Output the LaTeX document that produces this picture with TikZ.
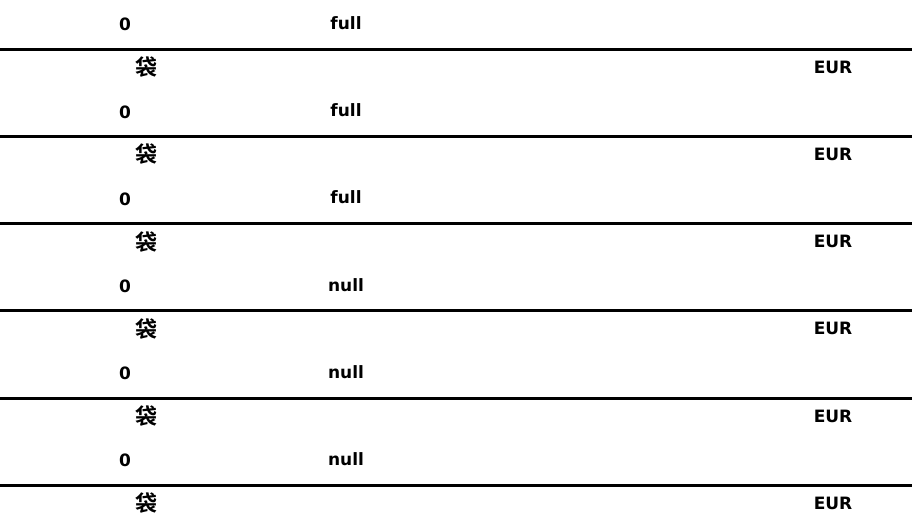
\documentclass[tikz,border=0pt]{standalone}
\usepackage{fontspec}
\setmainfont{DejaVu Sans}
\newfontfamily\cjk{Noto Sans CJK SC Bold}
\begin{document}
\begin{tikzpicture}[x=1pt,y=-1pt,
  lbl/.style={font=\fontsize{17}{19}\selectfont\bfseries, inner sep=0pt, text=black},
  cjklbl/.style={font=\cjk\fontsize{22}{24}\selectfont, inner sep=0pt, text=black},
  rule/.style={line width=3pt, black}]
\useasboundingbox (0,0) rectangle (912,513);
\foreach \i/\v in {0/full,1/full,2/full,3/null,4/null,5/null} {
  \pgfmathsetmacro\ly{49.2+87.2*\i}
  \node[lbl] (zero\i) at (125,\ly-24.5) {0};
  \node[lbl] (state\i) at (346,\ly-26) {\v};
  \draw[rule] (0,\ly) -- (912,\ly);
  \node[cjklbl] (bag\i) at (146,\ly+18) {袋};
  \node[lbl] (cur\i) at (833,\ly+18) {EUR};
}
\end{tikzpicture}
\end{document}
